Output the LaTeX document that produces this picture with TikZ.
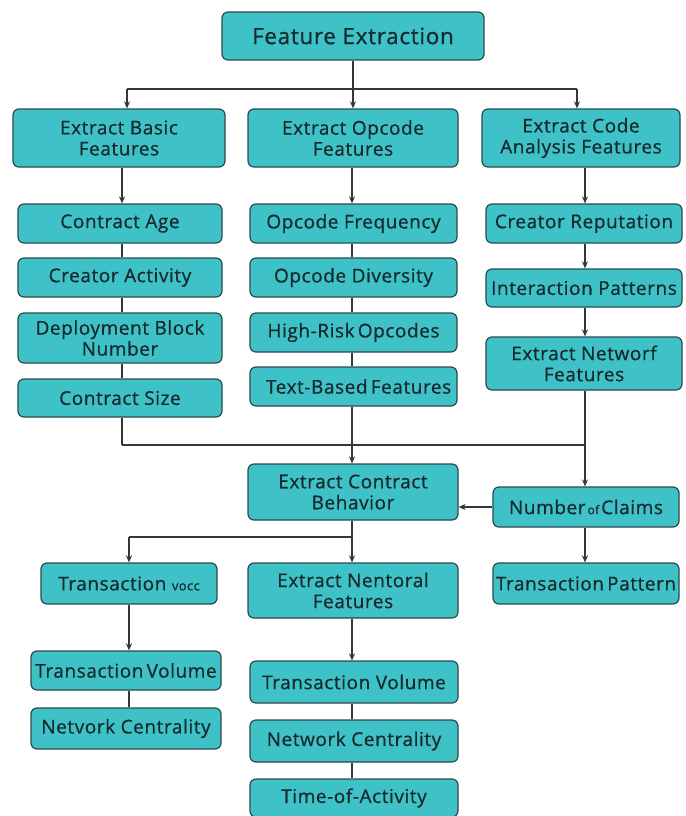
\documentclass[tikz,border=0pt]{standalone}
\usepackage{fontspec}
\setmainfont{Open Sans}[LetterSpace=3,FakeBold=0.6]
\usetikzlibrary{arrows.meta}
\definecolor{boxfill}{HTML}{3FC2C7}
\definecolor{boxline}{HTML}{2B4A4C}
\definecolor{txt}{HTML}{16292C}
\definecolor{wire}{HTML}{303838}
\tikzset{
  box/.style={draw=boxline, line width=1.2pt, fill=boxfill, rounded corners=6pt,
    text=txt, align=center, inner sep=1pt, font=\fontsize{19}{21}\selectfont},
  wireline/.style={draw=wire, line width=1.3pt},
  arr/.style={wireline, -{Stealth[length=7pt,width=6pt]}},
}
\newcommand{\bx}[6]{\node[box, minimum width=#4pt, minimum height=#5pt] (#1) at (#2,#3) {#6};}
\begin{document}
\begin{tikzpicture}[x=1pt,y=-1pt]
\useasboundingbox (0,0) rectangle (685,816);
\fill[white] (0,0) rectangle (685,816);
% nodes
\node[box, minimum width=262pt, minimum height=48pt, font=\fontsize{22.5}{24}\selectfont] (fe) at (353,36) {Feature Extraction};
\bx{basic}{119}{138}{212}{58}{Extract Basic\\Features}
\bx{opcode}{353}{138}{210}{58}{Extract Opcode\\Features}
\bx{code}{581}{138}{198}{58}{Extract Code\\Analysis Features}
\bx{age}{120}{223.5}{204}{39}{Contract Age}
\bx{cact}{120}{277.5}{204}{39}{Creator Activity}
\bx{dep}{120}{338}{204}{50}{Deployment Block\\Number}
\bx{size}{120}{398}{204}{38}{Contract Size}
\bx{ofreq}{353.5}{223.5}{207}{39}{Opcode Frequency}
\bx{odiv}{353.5}{277.5}{207}{39}{Opcode Diversity}
\bx{hrisk}{353.5}{332.5}{207}{39}{High-Risk\,Opcodes}
\node[box, minimum width=207pt, minimum height=39pt, text width=205pt, align=left] (text) at (353.5,386.5) {\hspace*{15pt}Text-Based\,Features};
\bx{crep}{584}{223.5}{196}{39}{Creator Reputation}
\bx{ipat}{584}{288}{196}{38}{Interaction Patterns}
\bx{netf}{584}{363.5}{196}{53}{Extract Networf\\Features}
\bx{ecb}{353}{492}{210}{56}{Extract Contract\\Behavior}
\bx{noc}{586}{507}{186}{40}{Number{\fontsize{12}{12}\selectfont\,of\,}Claims}
\bx{tvocc}{129}{583.5}{176}{41}{Transaction {\fontsize{13}{13}\selectfont vocc}}
\bx{nent}{353}{590.5}{210}{55}{Extract Nentoral\\Features}
\bx{tpat}{586}{583.5}{186}{41}{Transaction\,Pattern}
\bx{tvol1}{126}{670.5}{190}{39}{Transaction\,Volume}
\bx{ncent1}{126}{728.5}{190}{41}{Netvork Centrality}
\bx{tvol2}{354}{682}{208}{42}{Transaction Volume}
\bx{ncent2}{354}{741}{208}{42}{Network Centrality}
\bx{toa}{354}{798}{208}{38}{Time-of-Activity}
% junction coordinates
\coordinate (j0) at (353,89);
\coordinate (j1) at (127,89);
\coordinate (j3) at (577,89);
\coordinate (k1) at (122,445);
\coordinate (k2) at (352,445);
\coordinate (k3) at (585,445);
\coordinate (m1) at (129,537);
\coordinate (m2) at (352,537);
% top fan-out
\draw[wireline] (fe.south) -- (j0);
\draw[wireline] (j1) -- (j3);
\draw[arr] (j1) -- (j1 |- basic.north);
\draw[arr] (j0) -- (opcode.north);
\draw[arr] (j3) -- (j3 |- code.north);
% column 1
\draw[arr] (basic.south -| k1) -- (age.north -| k1);
\draw[wireline] (age.south -| k1) -- (cact.north -| k1);
\draw[wireline] (cact.south -| k1) -- (dep.north -| k1);
\draw[wireline] (dep.south -| k1) -- (size.north -| k1);
\draw[wireline] (size.south -| k1) -- (k1);
% column 2
\draw[arr] (opcode.south -| k2) -- (ofreq.north -| k2);
\draw[wireline] (ofreq.south -| k2) -- (odiv.north -| k2);
\draw[wireline] (odiv.south -| k2) -- (hrisk.north -| k2);
\draw[wireline] (hrisk.south -| k2) -- (text.north -| k2);
\draw[arr] (text.south -| k2) -- (ecb.north -| k2);
% column 3
\draw[arr] (code.south -| k3) -- (crep.north -| k3);
\draw[arr] (crep.south -| k3) -- (ipat.north -| k3);
\draw[arr] (ipat.south -| k3) -- (netf.north -| k3);
\draw[arr] (netf.south -| k3) -- (noc.north -| k3);
% merge line
\draw[wireline] (k1) -- (k3);
% number of claims
\draw[arr] (noc.west) -- (noc.west -| ecb.east);
\draw[arr] (noc.south -| k3) -- (tpat.north -| k3);
% behaviour fan-out
\draw[wireline] (ecb.south -| m2) -- (m2);
\draw[wireline] (m1) -- (m2);
\draw[arr] (m1) -- (tvocc.north -| m1);
\draw[arr] (m2) -- (nent.north -| m2);
% lower left
\draw[arr] (tvocc.south -| m1) -- (tvol1.north -| m1);
\draw[wireline] (tvol1.south -| m1) -- (ncent1.north -| m1);
% lower middle
\draw[arr] (nent.south -| m2) -- (tvol2.north -| m2);
\draw[wireline] (tvol2.south -| m2) -- (ncent2.north -| m2);
\draw[wireline] (ncent2.south -| m2) -- (toa.north -| m2);
\end{tikzpicture}
\end{document}
